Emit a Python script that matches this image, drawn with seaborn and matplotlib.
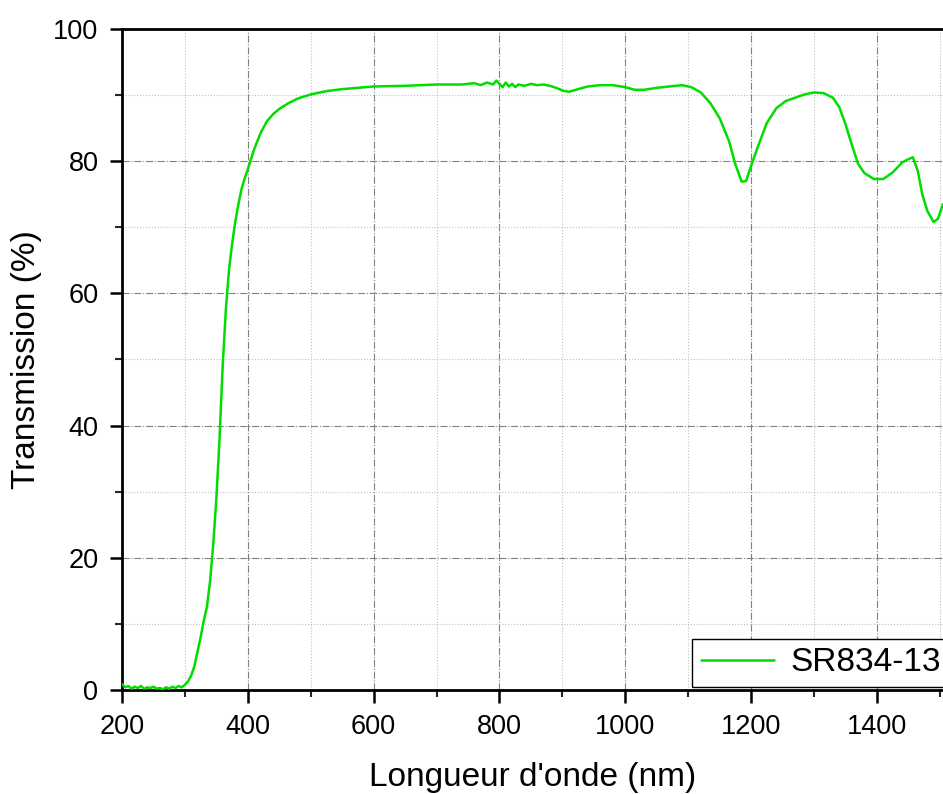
import seaborn as sns
import matplotlib.pyplot as plt
from matplotlib.ticker import MultipleLocator
import pandas as pd

# Données
wavelength = [200, 205, 210, 215, 220, 225, 230, 235, 240, 245, 250, 255, 260, 265, 270, 275, 280, 285, 290, 295,
              300, 305, 310, 315, 320, 325, 330, 335, 340, 345, 350, 355, 360, 365, 370, 375, 380, 385, 390, 395,
              400, 405, 410, 420, 430, 440, 450, 465, 480, 500, 525, 550, 575, 600, 650, 700, 740, 760, 770, 780,
              790, 795, 800, 805, 810, 815, 820, 825, 830, 840, 850, 860, 870, 880, 890, 900, 910, 925, 940, 960,
              980, 1000, 1015, 1030, 1050, 1070, 1090, 1105, 1120, 1135, 1150, 1165, 1175, 1185, 1192, 1200, 1210,
              1225, 1240, 1255, 1270, 1285, 1300, 1315, 1330, 1340, 1350, 1360, 1370, 1380, 1395, 1410, 1425, 1440,
              1450, 1457, 1465, 1472, 1480, 1490, 1497, 1505]
transmission = [0.9, 0.4, 0.6, 0.2, 0.5, 0.3, 0.6, 0.2, 0.4, 0.3, 0.5, 0.2, 0.3, 0.1, 0.4, 0.2, 0.5, 0.3, 0.6, 0.4,
                0.8, 1.3, 2.2, 3.6, 5.8, 8.0, 10.5, 12.6, 16.5, 22.0, 29.0, 38.0, 49.0, 57.5, 63.5, 67.5, 70.8, 73.5, 75.8, 77.4,
                78.8, 80.3, 81.8, 84.2, 86.0, 87.1, 87.9, 88.8, 89.5, 90.1, 90.6, 90.9, 91.1, 91.3, 91.4, 91.6, 91.6, 91.8, 91.5, 91.9,
                91.6, 92.2, 91.7, 91.2, 91.9, 91.3, 91.7, 91.2, 91.6, 91.4, 91.7, 91.5, 91.6, 91.4, 91.1, 90.7, 90.5, 90.9, 91.3, 91.5,
                91.5, 91.2, 90.8, 90.8, 91.1, 91.3, 91.5, 91.2, 90.4, 88.8, 86.5, 83.0, 79.5, 76.9, 77.0, 79.3, 82.0,
                85.8, 88.0, 89.1, 89.6, 90.1, 90.4, 90.3, 89.6, 88.2, 85.6, 82.5, 79.6, 78.2, 77.3, 77.3, 78.3, 79.8,
                80.3, 80.6, 78.5, 75.0, 72.5, 70.8, 71.3, 73.5]
label = "SR834-13"

df = pd.DataFrame({"wl": wavelength, "T": transmission})

sns.set_style("ticks")
plt.rcParams['font.family'] = ['Liberation Sans', 'DejaVu Sans']
plt.rcParams['text.color'] = 'black'
plt.rcParams['axes.labelcolor'] = 'black'

fig = plt.figure(figsize=(9.43, 7.94), dpi=100)
ax = fig.add_axes([0.1294, 0.131, 0.8706, 0.8325])

sns.lineplot(x="wl", y="T", data=df, ax=ax, color="#00dd00", linewidth=1.8, label=label, zorder=3)

ax.set_xlim(200, 1505)
ax.set_ylim(0, 100)
ax.xaxis.set_major_locator(MultipleLocator(200))
ax.xaxis.set_minor_locator(MultipleLocator(100))
ax.yaxis.set_major_locator(MultipleLocator(20))
ax.yaxis.set_minor_locator(MultipleLocator(10))

ax.grid(which='major', linestyle='-.', color='#808080', linewidth=0.8)
ax.grid(which='minor', linestyle=':', color='#c0c0c0', linewidth=0.8)
ax.set_axisbelow(True)

ax.tick_params(which='major', direction='out', length=9, width=1.8, labelsize=19.5, colors='black', pad=8)
ax.tick_params(which='minor', direction='out', length=5, width=1.5)
for side in ['left', 'bottom', 'top']:
    ax.spines[side].set_linewidth(2)
    ax.spines[side].set_color('black')
ax.spines['right'].set_visible(False)

ax.set_xlabel("Longueur d'onde (nm)", fontsize=24, labelpad=16)
ax.set_ylabel("Transmission (%)", fontsize=24, labelpad=8)

leg = ax.legend(loc='lower right', bbox_to_anchor=(1.012, 0.0), fontsize=24, frameon=True,
                fancybox=False, handlelength=2.2, borderaxespad=0.1, borderpad=0.25, handletextpad=0.5)
leg.get_frame().set_edgecolor('black')
leg.get_frame().set_linewidth(1.0)
leg.get_frame().set_alpha(1)

fig.savefig("out.png", dpi=100)
